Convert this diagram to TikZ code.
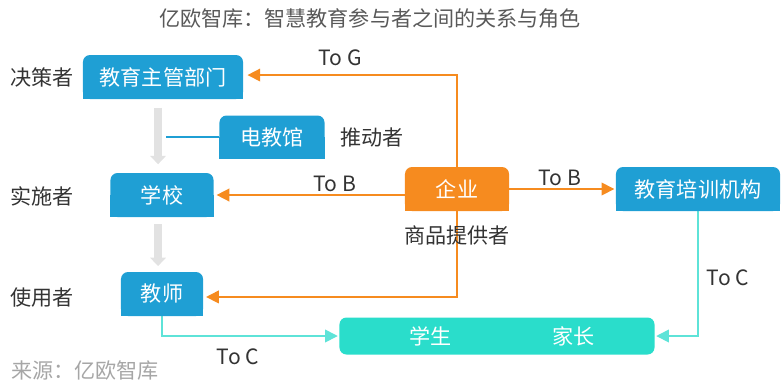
\documentclass[tikz,border=0pt]{standalone}
\usepackage{fontspec}
\setmainfont{Noto Sans CJK SC}
\usetikzlibrary{arrows.meta,backgrounds}
\definecolor{boxblue}{HTML}{1F9FD4}
\definecolor{corporange}{HTML}{F68B1F}
\definecolor{learnteal}{HTML}{2ADDCB}
\definecolor{linkteal}{HTML}{5EE3D8}
\definecolor{flowgray}{HTML}{E2E2E2}
\definecolor{textdark}{HTML}{333333}

\begin{document}
\begin{tikzpicture}[
  x=0.025cm, y=-0.025cm,
  >={Triangle[length=9pt,width=9pt]},
  font=\fontsize{15}{18}\selectfont,
  actor/.style={fill=boxblue, text=white, rounded corners=5pt, inner sep=0pt,
                minimum height=1.1cm},
  role/.style={text=textdark, inner sep=1pt},
  orangelink/.style={draw=corporange, line width=1.1pt},
  tealink/.style={draw=linkteal, line width=1.1pt, ->},
  flow/.style={draw=flowgray, line width=6pt, -{Triangle[length=6pt,width=11pt]}},
]
\useasboundingbox (0,0) rectangle (781,384);
\node[text=black!65] (title) at (370,18) {亿欧智库：智慧教育参与者之间的关系与角色};

% the players
\node[actor, minimum width=4cm] (gov) at (163,77) {教育主管部门};
\node[actor, minimum width=2.625cm, minimum height=1.075cm] (djg) at (272,137) {电教馆};
\node[actor, minimum width=2.575cm] (school) at (162,195) {学校};
\node[actor, minimum width=2.05cm] (teacher) at (162,294) {教师};
\node[actor, fill=corporange, minimum width=2.6cm] (corp) at (457,189) {企业};
\node[actor, minimum width=4.1cm] (train) at (698,189) {教育培训机构};
\node[actor, fill=learnteal, minimum width=7.875cm, minimum height=0.925cm]
  (family) at (497,336) {\hspace*{7pt}学生\hspace{72pt}家长};

% roles
\node[role] (decide) at (42,77) {决策者};
\node[role] (run) at (42,196) {实施者};
\node[role] (use) at (42,298) {使用者};
\node[role] (push) at (372,137) {推动者};
\node[role] (supply) at (457,235) {商品提供者};
\node[text=black!35] (source) at (85,370) {来源：亿欧智库};

\begin{scope}[on background layer]
  \draw[orangelink, <->, shorten <=3pt, shorten >=2pt]
    ([yshift=1.4pt]gov.east) -| (corp.center) |- ([yshift=-2.1pt]teacher.east);
  \draw[orangelink, ->, shorten >=2pt]
    (corp.center |- school.east) -- (school.east);
  \draw[orangelink, ->, shorten >=1pt] (corp.east) -- (train.west);
  \draw[tealink, shorten >=1pt] (train.south) |- (family.east);
  \draw[tealink, shorten >=1pt] (teacher.south) |- (family.west);
  \draw[draw=boxblue, line width=0.9pt] (djg.west) -- ([xshift=2pt]djg.west -| gov.south);
  \foreach \n/\c in {gov/boxblue, djg/boxblue, school/boxblue, teacher/boxblue,
                     train/boxblue, corp/corporange}
    \fill[\c] (\n.west) rectangle (\n.south east);
\end{scope}
\draw[flow, shorten <=6pt, shorten >=6pt] ([xshift=-3.5pt]gov.south) -- ([xshift=-3.5pt]gov.south |- school.north);
\draw[flow, shorten <=5pt, shorten >=4pt] ([xshift=-2.8pt]school.south) -- ([xshift=-2.8pt]school.south |- teacher.north);

% channel labels
\node[role] (tog) at (340,58) {To G};
\node[role] (tob1) at (335,184) {To B};
\node[role] (tob2) at (560,178) {To B};
\node[role] (toc1) at (728,278) {To C};
\node[role] (toc2) at (238,357) {To C};
\end{tikzpicture}
\end{document}
